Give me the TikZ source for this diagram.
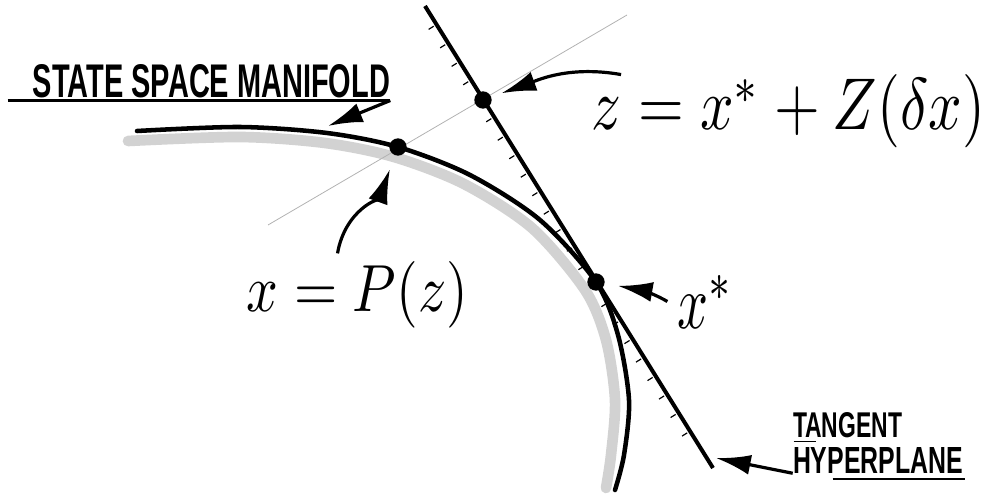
\documentclass[tikz,border=0pt]{standalone}
\usepackage{fontspec}
\setsansfont{Liberation Sans}
\usepackage{graphicx}
\usetikzlibrary{arrows.meta, calc}

\newdimen\pxu \pxu=0.75pt
\newcommand{\fitlbl}[3]{\resizebox{#1\pxu}{#2\pxu}{#3}}

\begin{document}
\begin{tikzpicture}[
  x=0.75pt, y=-0.75pt,
  every node/.style={inner sep=0pt},
  caps/.style={font=\sffamily\bfseries},
  manifold/.style={line width=3.4pt, line cap=round},
  band/.style={line width=8pt, gray!35, line cap=round},
  plane/.style={line width=3pt},
  ray/.style={line width=0.6pt, gray!60},
  hatch/.style={line width=0.9pt},
  dot/.style={circle, fill=black, minimum size=13pt},
  arrow/.style={-{Latex[length=26pt, width=15pt]}, line width=2.4pt}
]
  \useasboundingbox (0,0) rectangle (988,498);

  % manifold with its shading
  \draw[band] plot[smooth] coordinates {(128,141) (240,137) (325,143) (394,157)
    (464,184) (532,228) (585,290) (606,340) (615,400) (611,455) (606,488)};
  \draw[manifold] plot[smooth] coordinates {(137,131) (240,127) (327,133) (398,147)
    (470,175) (540,220) (596,282) (618,335) (629,400) (624,455) (615,490)};

  % tangent hyperplane
  \coordinate (tt) at (425,6);
  \coordinate (tb) at (713,468);
  \draw[plane] (tt) -- (tb);
  \foreach \t in {0.04,0.08,...,0.96}{
    \coordinate (h) at ($(tt)!\t!(tb)$);
    \draw[hatch] ($(h)!2.5pt!-90:(tb)$) -- ($(h)!7pt!-90:(tb)$);
  }

  \coordinate (rayL) at (268,225);
  \coordinate (rayR) at (627,15);
  \draw[ray] (rayL) -- (rayR);

  \node[dot] (xdot)  at (398,147) {};
  \node[dot] (zdot)  at (483,100) {};
  \node[dot] (xsdot) at (596,282) {};

  \node[caps] (manilbl) at (211.5,81.5) {\fitlbl{357}{33}{STATE SPACE MANIFOLD}};
  \node (xlbl)  at (357.5,295) {\fitlbl{221}{50}{$x = P(z)$}};
  \node (zlbl)  at (788.5,111.5) {\fitlbl{393}{55}{$z = x^{*} + Z(\delta x)$}};
  \node (xslbl) at (705,301.5) {\fitlbl{56}{53}{$x^{*}$}};
  \node[caps] (tanlbl) at (847.5,425.5) {\fitlbl{109}{25}{TANGENT}};
  \node[caps] (hyplbl) at (878,460) {\fitlbl{170}{26}{HYPERPLANE}};

  % underlines
  \draw[line width=1.6pt] ($(manilbl.south west)+(-25,2)$) -- ($(manilbl.south east)+(0,2)$);
  \draw[line width=1.3pt] ($(tanlbl.south west)+(1,3)$) -- +(22,0);
  \draw[line width=1.3pt] ($(hyplbl.south west)+(40,6)$) -- ($(hyplbl.south east)+(2,6)$);

  \coordinate (mtip) at (328,126);
  \coordinate (ttip) at (716,458);
  \draw[arrow] ($(manilbl.south east)+(0,2)$) -- (mtip);
  \draw[arrow, shorten >=11pt] ([xshift=-15pt, yshift=6pt]xlbl.north)
    to[out=80, in=250] (xdot);
  \draw[arrow, shorten >=8pt] ([xshift=22pt]zlbl.north west)
    to[out=170, in=20] (zdot);
  \draw[arrow, shorten >=10pt] ([xshift=-7pt]xslbl.west)
    to[out=150, in=-10] (xsdot);
  \draw[arrow] (hyplbl.south west) -- (ttip);
\end{tikzpicture}
\end{document}
